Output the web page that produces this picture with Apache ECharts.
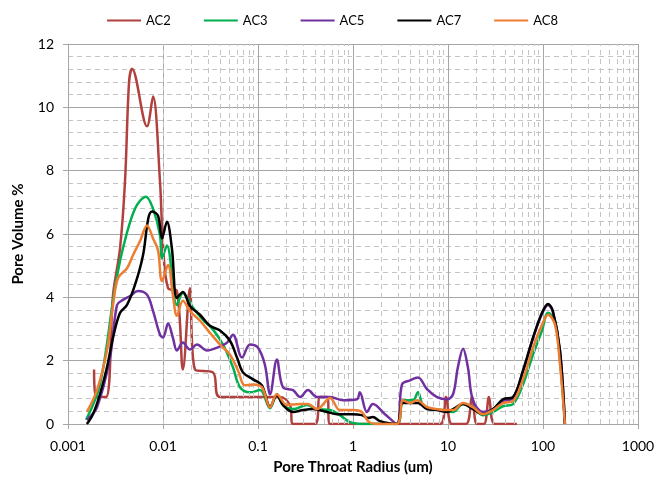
<!DOCTYPE html>
<html>
<head>
<meta charset="utf-8">
<title>Pore Throat Radius Distribution</title>
<script src="https://cdn.jsdelivr.net/npm/echarts@6/dist/echarts.min.js"></script>
<style>
  html, body { margin: 0; padding: 0; background: #ffffff; }
  #chart { width: 665px; height: 480px; }
</style>
</head>
<body>
<div id="chart"></div>
<script>
// Pore throat radius (um) vs pore volume (%) for each sample
const seriesNames = ['AC2', 'AC3', 'AC5', 'AC7', 'AC8'];
const seriesColors = ['#B0413E', '#00B050', '#7030A0', '#000000', '#ED7D31'];

const ac2 = [
  [0.00188, 1.72], [0.00197, 0.85], [0.00251, 0.85], [0.00298, 4.08], [0.00353, 5.55],
  [0.00398, 7.65], [0.00439, 10.78], [0.00472, 11.22], [0.00679, 9.40], [0.00785, 10.34],
  [0.0093, 7.65], [0.0100, 5.64], [0.0113, 4.29], [0.0140, 4.20], [0.0162, 1.72],
  [0.0192, 4.29], [0.0217, 1.72], [0.0336, 1.63], [0.0398, 0.85], [0.170, 0.85],
  [0.217, 0.60], [0.234, 0], [0.398, 0], [0.450, 0.85], [0.532, 0.85], [0.573, 0],
  [8.24, 0], [9.53, 0.85], [11.0, 0], [15.5, 0], [17.9, 0.85], [20.2, 0], [23.9, 0],
  [27.0, 0.85], [31.2, 0], [53.2, 0]
];

const ac3 = [
  [0.00155, 0.13], [0.00217, 1.25], [0.00312, 4.29], [0.00379, 5.55], [0.00507, 6.80],
  [0.00662, 7.18], [0.00785, 6.80], [0.0093, 5.96], [0.00976, 5.24], [0.0110, 5.64],
  [0.0140, 3.76], [0.0162, 4.14], [0.0207, 3.67], [0.0264, 3.29], [0.0336, 2.98],
  [0.0428, 2.51], [0.0545, 1.79], [0.0646, 1.16], [0.0824, 1.00], [0.105, 1.07],
  [0.134, 0.50], [0.158, 0.94], [0.183, 0.60], [0.234, 0.47], [0.328, 0.60],
  [0.418, 0.47], [0.573, 0.44], [0.729, 0.28], [0.93, 0.06], [1.27, 0], [2.90, 0],
  [3.36, 0.75], [4.28, 0.75], [4.83, 1.00], [5.45, 0.60], [6.95, 0.47], [8.86, 0.44],
  [11.3, 0.38], [14.4, 0.63], [18.3, 0.53], [23.4, 0.28], [29.8, 0.38], [37.9, 0.56],
  [48.3, 0.63], [61.6, 1.25], [78.5, 2.19], [97.6, 2.95], [113, 3.51], [134, 3.26],
  [151, 2.00], [170, 0]
];

const ac5 = [
  [0.00158, 0.13], [0.00202, 0.53], [0.00277, 2.10], [0.00328, 3.76], [0.00379, 3.92],
  [0.00450, 4.04], [0.00545, 4.20], [0.00679, 4.08], [0.00785, 3.57], [0.0093, 2.82],
  [0.0100, 2.73], [0.0113, 3.17], [0.0127, 2.73], [0.0140, 2.32], [0.0162, 2.57],
  [0.0192, 2.35], [0.0228, 2.51], [0.0290, 2.32], [0.0370, 2.41], [0.0472, 2.57],
  [0.0545, 2.82], [0.0679, 2.10], [0.0824, 2.51], [0.100, 2.41], [0.118, 1.88],
  [0.134, 0.94], [0.158, 2.04], [0.183, 1.16], [0.234, 1.07], [0.277, 0.85],
  [0.336, 1.07], [0.418, 0.85], [0.573, 0.85], [0.785, 0.75], [1.10, 0.78],
  [1.18, 1.00], [1.40, 0.38], [1.62, 0.63], [2.17, 0.31], [2.90, 0], [3.28, 1.25],
  [3.98, 1.38], [4.83, 1.47], [6.01, 1.10], [7.66, 0.85], [9.76, 0.78], [11.3, 0.94],
  [12.7, 1.79], [14.4, 2.38], [16.2, 1.79], [18.3, 0.75], [23.4, 0.38], [29.8, 0.47],
  [37.9, 0.72], [48.3, 0.82], [61.6, 1.66], [78.5, 2.70], [97.6, 3.48], [113, 3.76],
  [127, 3.54], [151, 2.29], [170, 0]
];

const ac7 = [
  [0.00158, 0], [0.00183, 0.31], [0.00217, 0.94], [0.00257, 1.79], [0.00298, 2.73],
  [0.00353, 3.51], [0.00418, 3.76], [0.00507, 4.39], [0.00616, 5.33], [0.00700, 6.49],
  [0.00766, 6.71], [0.00886, 6.58], [0.00976, 5.86], [0.0110, 6.39], [0.0124, 5.55],
  [0.0140, 3.98], [0.0162, 4.17], [0.0192, 3.73], [0.0245, 3.45], [0.0312, 3.10],
  [0.0398, 2.95], [0.0507, 2.63], [0.0601, 2.10], [0.0695, 1.63], [0.0886, 1.41],
  [0.110, 1.22], [0.134, 0.55], [0.158, 0.91], [0.183, 0.60], [0.234, 0.38],
  [0.298, 0.44], [0.379, 0.47], [0.532, 0.38], [0.679, 0.31], [0.976, 0.31],
  [1.24, 0.28], [1.44, 0.19], [1.62, 0.22], [1.92, 0.09], [2.90, 0], [3.36, 0.66],
  [4.83, 0.66], [6.01, 0.47], [7.66, 0.44], [9.76, 0.38], [11.3, 0.47], [14.4, 0.63],
  [18.3, 0.47], [23.4, 0.31], [29.8, 0.47], [37.9, 0.78], [48.3, 0.85], [61.6, 1.69],
  [78.5, 2.73], [97.6, 3.51], [113, 3.79], [127, 3.57], [151, 2.32], [170, 0]
];

const ac8 = [
  [0.00158, 0.38], [0.00202, 1.07], [0.00257, 2.32], [0.00298, 3.76], [0.00336, 4.61],
  [0.00418, 4.92], [0.00483, 5.33], [0.00572, 5.77], [0.00679, 6.27], [0.00785, 5.86],
  [0.00886, 5.49], [0.00976, 4.51], [0.0113, 5.02], [0.0127, 4.08], [0.0140, 3.42],
  [0.0162, 3.89], [0.0192, 3.57], [0.0245, 3.26], [0.0312, 2.88], [0.0398, 2.51],
  [0.0507, 2.19], [0.0616, 1.69], [0.0729, 1.22], [0.0886, 1.25], [0.110, 1.16],
  [0.134, 0.53], [0.158, 0.94], [0.202, 0.60], [0.277, 0.63], [0.336, 0.63],
  [0.418, 0.47], [0.573, 0.82], [0.729, 0.44], [1.00, 0.44], [1.24, 0.38],
  [1.44, 0.09], [1.71, 0], [2.90, 0], [3.36, 0.75], [3.98, 0.66], [4.72, 0.75],
  [6.01, 0.53], [7.66, 0.47], [9.76, 0.44], [11.3, 0.44], [14.4, 0.66], [18.3, 0.53],
  [23.4, 0.31], [29.8, 0.44], [37.9, 0.66], [48.3, 0.72], [61.6, 1.41], [78.5, 2.41],
  [97.6, 3.13], [113, 3.45], [134, 3.13], [151, 1.88], [170, 0]
];

const seriesData = [ac2, ac3, ac5, ac7, ac8];

// Axis ranges
const xMin = 0.001, xMax = 1000;
const yMin = 0, yMax = 12, yStep = 2;

// Dashed minor verticals at 2..9 within each decade
const minorRadii = [];
for (let e = -3; e <= 2; e++) {
  for (let m = 2; m <= 9; m++) {
    minorRadii.push(+(m * Math.pow(10, e)).toPrecision(3));
  }
}

const FONT = 'Lato, "Open Sans", "Liberation Sans", sans-serif';
const GRID_MAJOR = '#a6a6a6';
const GRID_MINOR = '#c4c4c4';

const chart = echarts.init(document.getElementById('chart'), null, { renderer: 'canvas' });

const lineSeries = seriesNames.map((name, i) => ({
  name: name,
  type: 'line',
  data: seriesData[i],
  showSymbol: false,
  symbol: 'none',
  smooth: 0.35,
  lineStyle: { color: seriesColors[i], width: 2.5 },
  itemStyle: { color: seriesColors[i] },
  z: 3 + i,
  animation: false
}));

const gridSeries = {
  name: 'minor-grid',
  type: 'line',
  data: [],
  silent: true,
  z: 1,
  animation: false,
  markLine: {
    silent: true,
    symbol: 'none',
    animation: false,
    label: { show: false },
    emphasis: { disabled: true },
    lineStyle: { color: GRID_MINOR, width: 1, type: [5, 4] },
    data: minorRadii.map(v => ({ xAxis: v }))
  }
};

chart.setOption({
  backgroundColor: '#ffffff',
  animation: false,
  textStyle: { fontFamily: FONT },
  legend: {
    data: seriesNames,
    top: 9,
    left: 'center',
    itemWidth: 34,
    itemHeight: 10,
    itemGap: 33,
    icon: 'path://M0,4 L34,4 L34,6 L0,6 Z',
    textStyle: { fontFamily: FONT, fontSize: 13, color: '#000000' }
  },
  grid: { left: 68, right: 27, top: 44, bottom: 53, containLabel: false },
  xAxis: {
    type: 'log',
    logBase: 10,
    min: xMin,
    max: xMax,
    name: 'Pore Throat Radius (um)',
    nameLocation: 'middle',
    nameGap: 36,
    nameTextStyle: { fontFamily: FONT, fontSize: 15, fontWeight: 'bold', color: '#000000' },
    axisLine: { show: true, lineStyle: { color: GRID_MAJOR, width: 1 } },
    axisTick: { show: true, inside: false, length: 5, lineStyle: { color: GRID_MAJOR } },
    axisLabel: {
      fontFamily: FONT, fontSize: 14, color: '#000000', margin: 15,
      formatter: v => String(+v.toPrecision(3))
    },
    splitLine: { show: true, lineStyle: { color: GRID_MAJOR, width: 1 } },
    minorTick: { show: false },
    minorSplitLine: { show: false }
  },
  yAxis: {
    type: 'value',
    min: yMin,
    max: yMax,
    interval: yStep,
    name: 'Pore Volume %',
    nameLocation: 'middle',
    nameGap: 42,
    nameRotate: 90,
    nameTextStyle: { fontFamily: FONT, fontSize: 15, fontWeight: 'bold', color: '#000000' },
    axisLine: { show: true, lineStyle: { color: GRID_MAJOR, width: 1 } },
    axisTick: { show: true, inside: false, length: 5, lineStyle: { color: GRID_MAJOR } },
    axisLabel: { fontFamily: FONT, fontSize: 14, color: '#000000', margin: 14 },
    splitLine: { show: true, lineStyle: { color: GRID_MAJOR, width: 1 } },
    minorTick: { show: false, splitNumber: 5 },
    minorSplitLine: { show: true, lineStyle: { color: GRID_MINOR, width: 1, type: [5, 4] } }
  },
  series: [gridSeries].concat(lineSeries)
});
</script>
</body>
</html>
